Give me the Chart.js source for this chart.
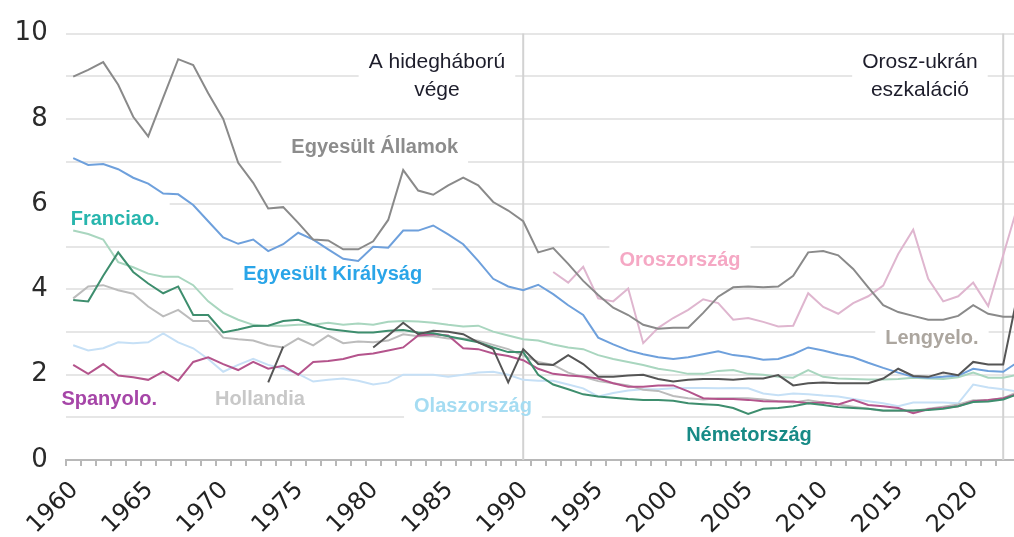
<!DOCTYPE html>
<html>
<head>
<meta charset="utf-8">
<script src="https://cdn.jsdelivr.net/npm/chart.js@4"></script>
<style>
  html, body { margin: 0; padding: 0; background: #fff; }
</style>
</head>
<body>
<canvas id="chart" width="1014" height="537"></canvas>
<script>
// years 1960..2023, values = military spending in % of GDP
const years = [];
for (let yr = 1960; yr <= 2023; yr++) years.push(yr);

const usa = [8.99, 9.15, 9.33, 8.8, 8.05, 7.59, 8.5, 9.4, 9.26, 8.6,
  8.0, 6.97, 6.5, 5.9, 5.93, 5.56, 5.17, 5.15, 4.94, 4.94,
  5.13, 5.63, 6.8, 6.32, 6.22, 6.44, 6.62, 6.44, 6.05, 5.85,
  5.6, 4.87, 4.97, 4.6, 4.2, 3.87, 3.57, 3.4, 3.17, 3.08,
  3.1, 3.1, 3.45, 3.83, 4.05, 4.07, 4.05, 4.07, 4.32, 4.87,
  4.9, 4.8, 4.48, 4.05, 3.63, 3.47, 3.38, 3.29, 3.29, 3.38,
  3.63, 3.43, 3.36, 3.36];

const uk = [7.08, 6.92, 6.94, 6.82, 6.62, 6.48, 6.25, 6.23, 5.98, 5.6,
  5.22, 5.07, 5.17, 4.9, 5.06, 5.33, 5.17, 4.94, 4.72, 4.67,
  5.0, 4.98, 5.38, 5.38, 5.5, 5.29, 5.06, 4.67, 4.25, 4.07,
  3.98, 4.11, 3.89, 3.63, 3.4, 2.87, 2.71, 2.57, 2.48, 2.41,
  2.37, 2.41, 2.48, 2.55, 2.46, 2.42, 2.35, 2.37, 2.48, 2.64,
  2.57, 2.48, 2.41, 2.28, 2.16, 2.05, 1.95, 1.93, 1.95, 1.98,
  2.14, 2.09, 2.07, 2.3];

const france = [5.38, 5.3, 5.17, 4.64, 4.52, 4.37, 4.3, 4.3, 4.1, 3.72,
  3.45, 3.29, 3.17, 3.15, 3.15, 3.17, 3.17, 3.22, 3.17, 3.2,
  3.17, 3.24, 3.26, 3.25, 3.22, 3.17, 3.13, 3.15, 3.01, 2.92,
  2.83, 2.8, 2.71, 2.64, 2.6, 2.46, 2.37, 2.3, 2.23, 2.14,
  2.09, 2.02, 2.02, 2.09, 2.11, 2.02, 2.0, 1.95, 1.93, 2.11,
  1.95, 1.91, 1.9, 1.89, 1.89, 1.9, 1.93, 1.91, 1.9, 1.94,
  2.05, 1.93, 1.93, 2.0];

const germany = [3.75, 3.72, 4.32, 4.87, 4.41, 4.14, 3.91, 4.07, 3.4, 3.4,
  2.99, 3.06, 3.14, 3.15, 3.26, 3.29, 3.17, 3.07, 3.03, 2.99,
  2.99, 3.03, 3.05, 2.99, 2.97, 2.9, 2.83, 2.76, 2.64, 2.53,
  2.53, 2.0, 1.77, 1.66, 1.54, 1.49, 1.46, 1.43, 1.41, 1.41,
  1.39, 1.33, 1.31, 1.29, 1.22, 1.08, 1.2, 1.22, 1.26, 1.33,
  1.29, 1.24, 1.22, 1.2, 1.16, 1.16, 1.16, 1.17, 1.2, 1.26,
  1.36, 1.37, 1.42, 1.55];

const netherlands = [3.79, 4.07, 4.1, 3.98, 3.9, 3.6, 3.37, 3.52, 3.26, 3.26,
  2.87, 2.83, 2.8, 2.69, 2.64, 2.85, 2.69, 2.92, 2.74, 2.78,
  2.76, 2.8, 2.95, 2.9, 2.9, 2.85, 2.85, 2.8, 2.7, 2.6,
  2.45, 2.3, 2.23, 2.05, 1.95, 1.85, 1.8, 1.75, 1.65, 1.62,
  1.5, 1.45, 1.42, 1.45, 1.45, 1.45, 1.42, 1.38, 1.35, 1.4,
  1.35, 1.3, 1.25, 1.2, 1.15, 1.15, 1.15, 1.2, 1.25, 1.3,
  1.4, 1.4, 1.45, 1.6];

const italy = [2.69, 2.57, 2.62, 2.76, 2.74, 2.76, 2.97, 2.76, 2.62, 2.37,
  2.07, 2.23, 2.37, 2.23, 2.14, 2.02, 1.84, 1.88, 1.91, 1.86,
  1.77, 1.82, 2.0, 2.0, 2.0, 1.95, 2.0, 2.05, 2.07, 2.0,
  1.88, 1.86, 1.86, 1.77, 1.68, 1.49, 1.57, 1.63, 1.66, 1.66,
  1.68, 1.69, 1.69, 1.68, 1.69, 1.68, 1.56, 1.52, 1.56, 1.54,
  1.51, 1.49, 1.43, 1.38, 1.33, 1.26, 1.35, 1.35, 1.35, 1.33,
  1.77, 1.7, 1.66, 1.6];

const spain = [2.23, 2.02, 2.25, 1.98, 1.94, 1.88, 2.07, 1.86, 2.3, 2.41,
  2.25, 2.11, 2.3, 2.14, 2.21, 2.0, 2.3, 2.32, 2.37, 2.46,
  2.5, 2.57, 2.64, 2.92, 2.95, 2.92, 2.62, 2.6, 2.5, 2.44,
  2.34, 2.14, 2.02, 1.98, 1.96, 1.91, 1.8, 1.72, 1.72, 1.75,
  1.75, 1.61, 1.45, 1.43, 1.43, 1.41, 1.38, 1.37, 1.37, 1.33,
  1.35, 1.3, 1.41, 1.29, 1.26, 1.22, 1.1, 1.19, 1.22, 1.26,
  1.38, 1.41, 1.45, 1.55];

const russia = [null, null, null, null, null, null, null, null, null, null,
  null, null, null, null, null, null, null, null, null, null,
  null, null, null, null, null, null, null, null, null, null,
  null, null, 4.41, 4.16, 4.53, 3.79, 3.72, 4.02, 2.74, 3.1,
  3.33, 3.52, 3.77, 3.68, 3.29, 3.33, 3.24, 3.13, 3.15, 3.91,
  3.59, 3.43, 3.68, 3.84, 4.09, 4.83, 5.4, 4.25, 3.72, 3.84,
  4.16, 3.61, 4.8, 6.0];

const poland = [null, null, null, null, null, null, null, null, null, null,
  null, null, null, 1.82, 2.66, null, null, null, null, null,
  2.64, 2.92, 3.22, 2.95, 3.03, 3.01, 2.95, 2.76, 2.6, 1.82,
  2.6, 2.25, 2.23, 2.46, 2.25, 1.95, 1.95, 1.98, 2.0, 1.9,
  1.84, 1.88, 1.9, 1.9, 1.88, 1.91, 1.91, 1.99, 1.75, 1.8,
  1.82, 1.8, 1.8, 1.8, 1.91, 2.14, 1.97, 1.95, 2.05, 1.99,
  2.3, 2.24, 2.24, 3.95];

// vertical markers: end of cold war, Russia-Ukraine escalation
const eventYears = [1990, 2022];

// annotation texts placed in data coordinates (year, value)
const notes = [
  { text: 'A hidegháború\nvége', year: 1984.75, value: 9.0, color: '#1d1d2b', bold: false },
  { text: 'Orosz-ukrán\neszkaláció', year: 2016.95, value: 9.0, color: '#1d1d2b', bold: false },
  { text: 'Egyesült Államok', year: 1980.6, value: 7.33, color: '#8c8c8c', bold: true },
  { text: 'Franciao.', year: 1963.3, value: 5.63, color: '#27b5ad', bold: true },
  { text: 'Egyesült Királyság', year: 1977.8, value: 4.34, color: '#2aa5e8', bold: true },
  { text: 'Oroszország', year: 2000.95, value: 4.69, color: '#f5a8c4', bold: true },
  { text: 'Lengyelo.', year: 2017.75, value: 2.85, color: '#aca69f', bold: true },
  { text: 'Spanyolo.', year: 1962.9, value: 1.43, color: '#a646a8', bold: true },
  { text: 'Hollandia', year: 1972.95, value: 1.43, color: '#c8c8c8', bold: true },
  { text: 'Olaszország', year: 1987.15, value: 1.26, color: '#a5dcf2', bold: true },
  { text: 'Németország', year: 2005.55, value: 0.57, color: '#178a86', bold: true }
];

// points sit in the middle of their year
const toPoints = (vals) => years.map((yr, i) => ({ x: yr + 0.5, y: vals[i] }));

const line = (label, vals, color) => ({
  label,
  data: toPoints(vals),
  borderColor: color,
  borderWidth: 2,
  pointRadius: 0,
  tension: 0,
  spanGaps: false
});

const overlay = {
  id: 'overlay',
  beforeDatasetsDraw(chart) {
    const { ctx, chartArea, scales: { x, y } } = chart;
    ctx.save();
    const boxes = notes.map(n => {
      const size = n.bold ? 20 : 21;
      ctx.font = (n.bold ? 'bold ' : '') + size + 'px "Liberation Sans", Arial, sans-serif';
      const lines = n.text.split('\n');
      const w = Math.max(...lines.map(l => ctx.measureText(l).width));
      const lh = size * 1.3;
      const h = lh * lines.length;
      const cx = x.getPixelForValue(n.year);
      const cy = y.getPixelForValue(n.value);
      ctx.fillStyle = '#fff';
      ctx.fillRect(cx - w / 2 - 10, cy - h / 2 - 4, w + 20, h + 8);
      return { n, size, lines, lh, h, cx, cy };
    });

    ctx.strokeStyle = '#d2d2d2';
    ctx.lineWidth = 2;
    eventYears.forEach(yr => {
      const px = x.getPixelForValue(yr + 0.5);
      ctx.beginPath();
      ctx.moveTo(px, chartArea.top);
      ctx.lineTo(px, chartArea.bottom);
      ctx.stroke();
    });

    ctx.textAlign = 'center';
    ctx.textBaseline = 'middle';
    boxes.forEach(b => {
      ctx.font = (b.n.bold ? 'bold ' : '') + b.size + 'px "Liberation Sans", Arial, sans-serif';
      ctx.fillStyle = b.n.color;
      b.lines.forEach((l, i) => ctx.fillText(l, b.cx, b.cy - b.h / 2 + b.lh * (i + 0.5)));
    });
    ctx.restore();
  }
};

new Chart(document.getElementById('chart'), {
  type: 'line',
  data: {
    datasets: [
      line('Lengyelország', poland, '#555555'),
      line('Egyesült Államok', usa, '#8a8a8a'),
      line('Oroszország', russia, '#dfb6cf'),
      line('Egyesült Királyság', uk, '#6ea0dc'),
      line('Németország', germany, '#3e8e6e'),
      line('Spanyolország', spain, '#b4548c'),
      line('Franciaország', france, '#a9d6bf'),
      line('Hollandia', netherlands, '#bcbcbc'),
      line('Olaszország', italy, '#c6e0f6')
    ]
  },
  options: {
    responsive: false,
    animation: false,
    devicePixelRatio: 1,
    layout: { padding: { top: 25, right: 0, bottom: 0, left: 0 } },
    plugins: {
      legend: { display: false },
      tooltip: { enabled: false }
    },
    scales: {
      x: {
        type: 'linear',
        min: 1960,
        max: 2023.22,
        afterBuildTicks(scale) {
          scale.ticks = scale.ticks.filter(t => Number.isInteger(t.value));
        },
        afterFit(scale) {
          scale.height = 77;
          scale.paddingLeft = 0;
          scale.paddingRight = 0;
        },
        ticks: {
          stepSize: 1,
          autoSkip: false,
          minRotation: 45,
          maxRotation: 45,
          padding: 10,
          labelOffset: 9,
          color: '#222',
          font: { family: '"DejaVu Sans", sans-serif', size: 24 },
          callback: (v) => (v % 5 === 0 ? String(v) : '')
        },
        grid: {
          drawOnChartArea: false,
          drawTicks: true,
          tickLength: 6,
          color: '#b8b8b8',
          lineWidth: 2
        },
        border: { display: true, color: '#b8b8b8', width: 2 }
      },
      y: {
        min: 0,
        max: 10,
        afterFit(scale) {
          scale.width = 65.7;
        },
        ticks: {
          stepSize: 1,
          padding: 18,
          color: '#2a2a2a',
          font: { family: '"DejaVu Sans", sans-serif', size: 26 },
          callback: (v) => (v % 2 === 0 ? String(v) : '')
        },
        grid: { color: '#e6e6e6', lineWidth: 2, drawTicks: false },
        border: { display: false }
      }
    }
  },
  plugins: [overlay]
});
</script>
</body>
</html>
